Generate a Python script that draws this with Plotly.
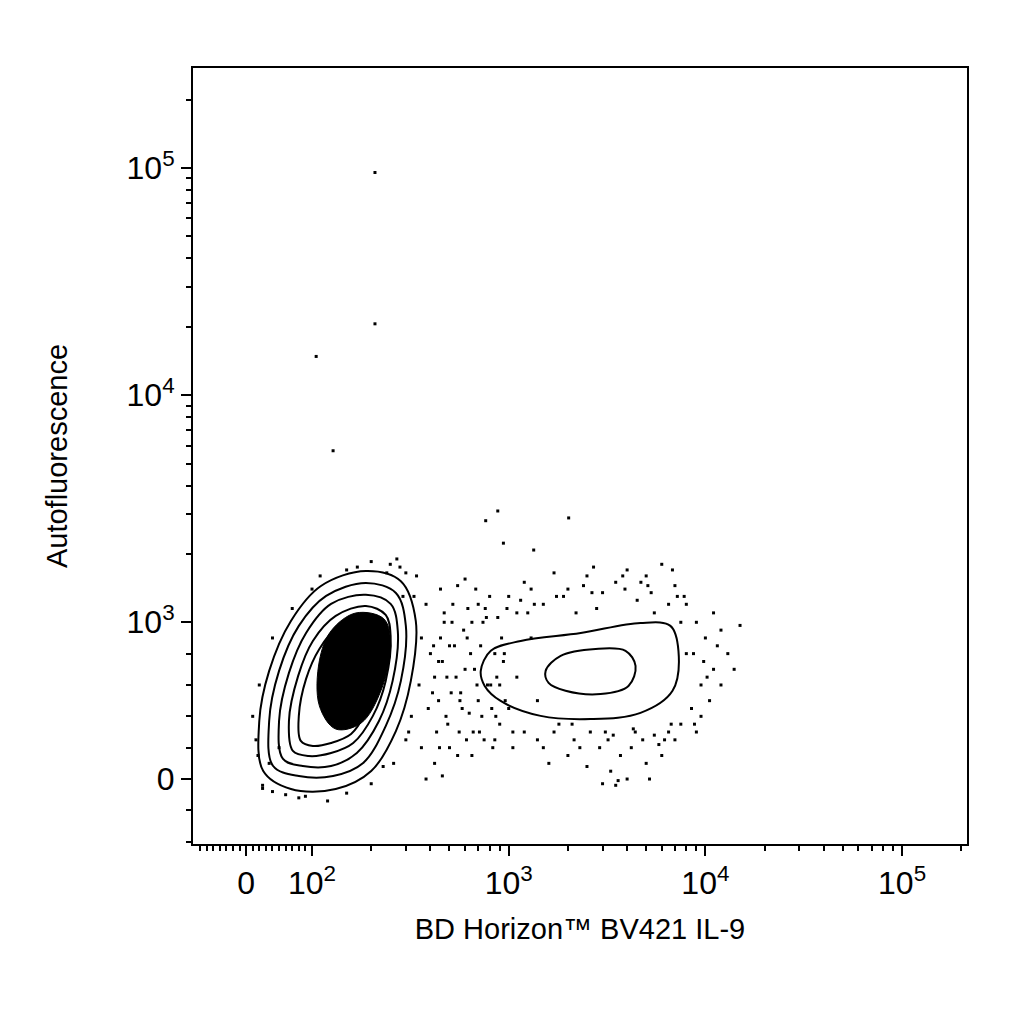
import numpy as np
import plotly.graph_objects as go

# biexponential-like display transforms (display units = decades)
def tx(v):
    v = np.asarray(v, dtype=float)
    return np.where(v >= 100, np.log10(np.maximum(v, 1)) - 2 + 0.335, 0.335 * v / 100)

def ty(v):
    v = np.asarray(v, dtype=float)
    return np.where(v >= 1000, np.log10(np.maximum(v, 1)) - 3 + 0.69, 0.69 * v / 1000)

# left population contour rings (raw values)
ring1_x = [26, 20, 35, 68, 111, 188, 283, 337, 318, 267, 200, 132, 68]
ring1_y = [51, 370, 690, 1014, 1445, 1683, 1517, 1014, 626, 306, 51, -64, -64]
ring2_x = [41, 35, 50, 80, 118, 188, 267, 300, 283, 237, 182, 128, 80]
ring2_y = [83, 370, 690, 977, 1306, 1490, 1346, 977, 626, 338, 102, 19, 19]
ring3_x = [56, 50, 65, 91, 125, 188, 251, 273, 257, 219, 169, 125, 86]
ring3_y = [128, 370, 677, 932, 1205, 1321, 1205, 945, 626, 370, 166, 83, 83]
ring4_x = [71, 65, 79, 101, 132, 188, 237, 251, 237, 204, 162, 125, 95]
ring4_y = [179, 370, 658, 881, 1067, 1180, 1077, 913, 626, 403, 230, 166, 147]
ring5_x = [83, 80, 91, 109, 137, 182, 224, 235, 219, 190, 158, 125, 101]
ring5_y = [243, 403, 639, 830, 977, 1057, 983, 881, 626, 434, 287, 230, 211]
core_x = [109, 109, 125, 167, 232, 251, 224, 178, 132]
core_y = [467, 754, 945, 1099, 1035, 849, 563, 358, 319]

# right population contour rings
rightA_x = [721, 811, 1151, 2323, 4677, 6637, 7295, 6806, 4677, 2606, 1453, 910, 755]
rightA_y = [690, 818, 881, 932, 996, 977, 818, 563, 422, 383, 403, 498, 594]
rightB_x = [1541, 1837, 2767, 3926, 4415, 4064, 2931, 1945, 1595]
rightB_y = [690, 786, 830, 818, 722, 594, 542, 563, 613]

# scattered events (raw values)
dots_x = [18, 15, 25, 40, 60, 90, 120, 150, 200, 230, 300, 320, 350, 360, 330, 300, 250, 200, 150, 100,
          70, 40, 20, 10, 280, 340, 380, 400, 390, 360, 270,
          420, 450, 480, 520, 560, 600, 650, 700, 750, 800, 850, 900, 430, 470, 510, 550, 590, 630, 680,
          720, 780, 830, 880, 440, 460, 500, 540, 580, 620, 660, 740, 450, 550, 600, 700, 420, 500, 650, 380, 460,
          1000, 1200, 1500, 2000, 2500, 3000, 3500, 4000, 5000, 6000, 7000, 8000, 9000, 10000, 12000, 15000,
          11000, 9500, 8500, 9000, 7000, 6000, 5000, 4000, 3500, 3000, 2500, 2000, 1500, 1200, 1000, 900, 950,
          1100, 1300, 2200, 2800, 4500, 5500, 6500, 7500, 8000, 10500, 9500, 7500, 6500, 5500, 4800, 4200, 3700,
          3200, 2600, 2300, 1800, 1400, 1100, 850, 1600, 3300, 5200, 3600, 1300, 1700, 2700, 4700, 6800, 12000,
          13000, 14000, 11000,
          410, 440, 470, 490, 530, 570, 610, 640, 690, 730, 770, 820, 870, 920, 960,
          415, 445, 485, 515, 565, 615, 670, 710, 760, 810, 860, 940, 980, 1050, 1150,
          1250, 1400, 1700, 1900, 2100, 2400, 2900, 3400, 3900, 4400, 5300, 6200, 7200, 8800, 9800,
          1050, 1350, 1750, 2150, 2650, 3100, 3800, 4300, 5100, 5800, 6700, 7800, 8700, 10200, 11500,
          25, 35, 50, 80, 110, 170, 240, 290, 310, 260,
          209, 209, 105, 128, 764, 880, 940, 1340, 2018]
dots_y = [150, 250, -40, -80, -100, -110, -140, -90, -30, 80, 250, 400, 600, 900, 1300, 1650, 1800, 1850, 1700, 1400,
          1150, 900, 600, 400, 1750, 1600, 1200, 800, 450, 200, 1900,
          650, 900, 400, 1200, 300, 700, 1000, 500, 250, 1300, 800, 350, 300, 1100, 550, 150, 950, 420, 1400,
          850, 600, 200, 1050, 500, 750, 850, 650, 450, 1150, 300, 1000, 1400, 1450, 1550, 1200, 100, 200, 150, 0, 20,
          1300, 1500, 1200, 1400, 1600, 1350, 1500, 1700, 1600, 1800, 1450, 1200, 1000, 900, 950, 980,
          700, 600, 450, 300, 250, 150, 100, 0, -40, -30, 80, 150, 200, 300, 450, 600, 800,
          1100, 900, 1100, 1150, 1250, 1100, 1200, 1000, 800, 500, 400, 350, 300, 280, 250, 200, 150,
          250, 300, 200, 350, 500, 650, 250, 100, 50, 0, -10, 1400, 1650, 1750, 1500, 1700, 600,
          800, 700, 1100,
          550, 750, 1000, 350, 850, 550, 250, 800, 600, 400, 1050, 450, 650, 900, 500,
          850, 200, 650, 1000, 500, 900, 700, 300, 1150, 600, 400, 750, 1150, 300, 1250,
          1100, 250, 300, 1300, 350, 1450, 200, 280, 1400, 300, 1350, 250, 1300, 350, 750,
          200, 1200, 1300, 250, 1350, 300, 1600, 320, 1450, 220, 350, 1300, 800, 650, 850,
          -60, 100, 200, -120, 1600, 1750, 1650, 1300, 300, 100,
          95500, 20600, 14800, 5690, 2800, 3090, 2230, 2080, 2880]

x_major = [0, 100, 1000, 10000, 100000]
x_labels = ["0", "10<sup>2</sup>", "10<sup>3</sup>", "10<sup>4</sup>", "10<sup>5</sup>"]
y_major = [0, 1000, 10000, 100000]
y_labels = ["0", "10<sup>3</sup>", "10<sup>4</sup>", "10<sup>5</sup>"]

x_minor = [m * 10 ** k for k in (2, 3, 4) for m in range(2, 10)] + [200000] + list(range(-70, 100, 10))
y_minor = [m * 10 ** k for k in (3, 4) for m in range(2, 10)] + [200000] + list(range(-1000, 1000, 200))

fig = go.Figure()
fig.add_trace(go.Scatter(x=tx(dots_x), y=ty(dots_y), mode="markers",
                         marker=dict(color="black", size=3, symbol="square")))
fig.add_trace(go.Scatter(x=tx(core_x + core_x[:1]), y=ty(core_y + core_y[:1]), mode="lines",
                         line=dict(color="black", width=1, shape="spline"), fill="toself", fillcolor="black"))
for rx, ry in [(ring1_x, ring1_y), (ring2_x, ring2_y), (ring3_x, ring3_y), (ring4_x, ring4_y),
               (ring5_x, ring5_y), (rightA_x, rightA_y), (rightB_x, rightB_y)]:
    fig.add_trace(go.Scatter(x=tx(rx + rx[:1]), y=ty(ry + ry[:1]), mode="lines",
                             line=dict(color="black", width=2, shape="spline")))

axis_common = dict(showgrid=False, zeroline=False, showline=True, linecolor="black", linewidth=2,
                   mirror=True, ticks="outside", ticklen=10, tickwidth=1.5, tickcolor="black", automargin=False,
                   tickfont=dict(family="Liberation Sans", size=32, color="black"))
fig.update_xaxes(range=[-0.27, 3.665], tickmode="array", tickvals=tx(x_major).tolist(), ticktext=x_labels,
                 minor=dict(tickvals=tx(x_minor).tolist(), ticklen=5, tickcolor="black", ticks="outside"),
                 title=dict(text="BD Horizon™ BV421 IL-9", font=dict(family="Liberation Sans", size=29, color="black"),
                            standoff=18),
                 **axis_common)
fig.update_yaxes(range=[-0.286, 3.13], tickmode="array", tickvals=ty(y_major).tolist(), ticktext=y_labels,
                 minor=dict(tickvals=ty(y_minor).tolist(), ticklen=5, tickcolor="black", ticks="outside"),
                 title=dict(text="Autofluorescence", font=dict(family="Liberation Sans", size=29, color="black"),
                            standoff=50),
                 **axis_common)
fig.update_layout(width=1024, height=1024, showlegend=False, plot_bgcolor="white", paper_bgcolor="white",
                  margin=dict(l=185, r=65, t=60, b=188))
fig.write_html("out.html")
